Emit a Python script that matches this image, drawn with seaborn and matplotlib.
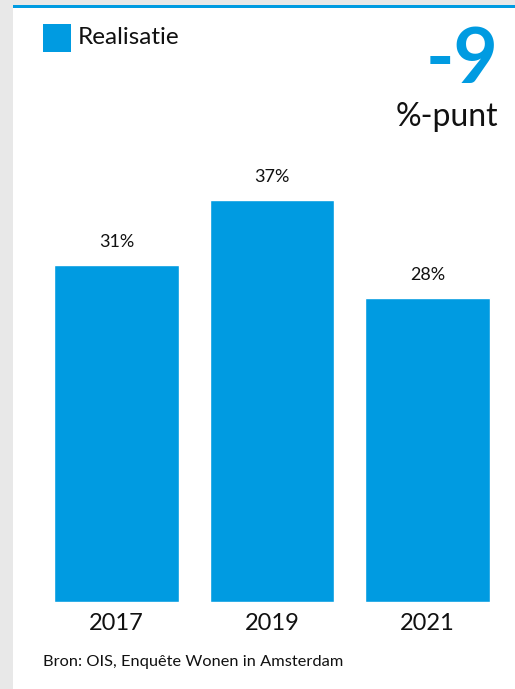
import matplotlib
matplotlib.use("Agg")
import matplotlib.pyplot as plt
import seaborn as sns
import pandas as pd

years = ["2017", "2019", "2021"]
values = [31, 37, 28]
labels = ["31%", "37%", "28%"]
series_name = "Realisatie"
change = "-9"
change_unit = "%-punt"
source = "Bron: OIS, Enquête Wonen in Amsterdam"

blue = "#009be1"

sns.set_style("white")
plt.rcParams["font.family"] = ["Lato", "DejaVu Sans"]

W, H = 515, 689
fig = plt.figure(figsize=(W / 100, H / 100), dpi=100)
fig.patch.set_facecolor("#e8e8e8")

# white panel with blue top line
fig.add_artist(plt.Rectangle((13 / W, 0), 1, (H - 8) / H, zorder=-5,
                             transform=fig.transFigure, color="white", lw=0))
fig.add_artist(plt.Rectangle((13 / W, (H - 8) / H), 1, 3 / H, zorder=-5,
                             transform=fig.transFigure, color=blue, lw=0))

# axes placed in pixel terms
left, right = 38.75, 505.25
bottom_px, top_px = 602, 167.6
ax = fig.add_axes([left / W, (H - bottom_px) / H,
                   (right - left) / W, (bottom_px - top_px) / H])
ax.set_facecolor("none")

df = pd.DataFrame({"jaar": years, "waarde": values})
sns.barplot(data=df, x="jaar", y="waarde", color=blue, saturation=1,
            width=0.8, ax=ax)

for i, (v, lab) in enumerate(zip(values, labels)):
    ax.annotate(lab, (i, v), xytext=(0, 11), textcoords="offset points",
                ha="center", va="bottom", fontsize=13, color="#111111")

ax.set_xlim(-0.5, 2.5)
ax.set_ylim(0, 40)
ax.set_xlabel("")
ax.set_ylabel("")
ax.set_yticks([])
ax.tick_params(axis="x", length=0, labelsize=17, pad=8, colors="#111111")
sns.despine(ax=ax, left=True, bottom=True)

# legend
fig.add_artist(plt.Rectangle((43 / W, (H - 52) / H), 28 / W, 28 / H,
                             transform=fig.transFigure, color=blue, lw=0))
fig.text(78 / W, (H - 38) / H, series_name, fontsize=17.5, va="center",
         ha="left", color="#111111")

# headline number
fig.text(498 / W, (H - 83) / H, change, fontsize=55, fontweight="bold",
         color=blue, ha="right", va="baseline")
fig.text(498 / W, (H - 126) / H, change_unit, fontsize=23,
         color="#111111", ha="right", va="baseline")

fig.text(43 / W, (H - 662) / H, source, fontsize=11.8, va="center",
         ha="left", color="#111111")

fig.savefig("out.png", dpi=100, facecolor=fig.get_facecolor())
